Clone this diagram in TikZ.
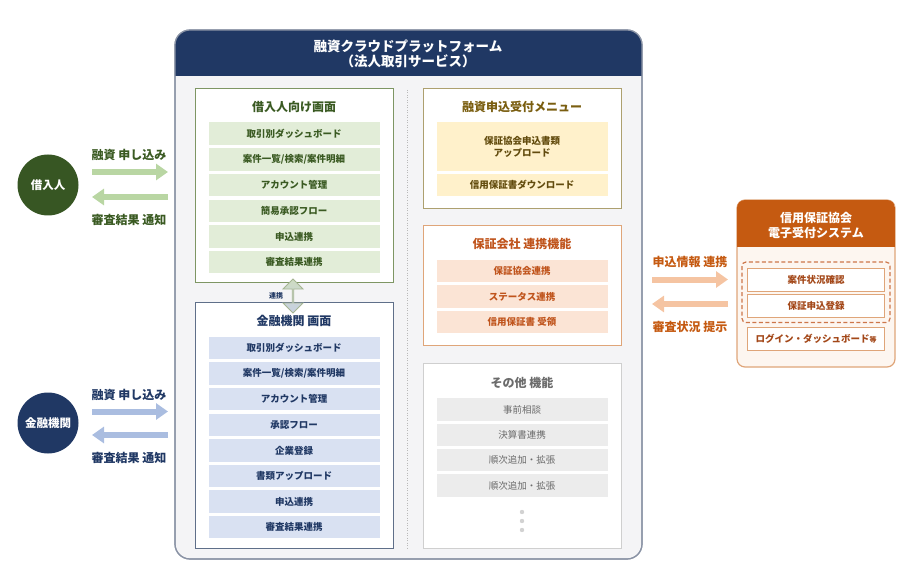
\documentclass[tikz,border=0pt]{standalone}
\usepackage{fontspec}
\setmainfont{Noto Sans CJK JP}
\usetikzlibrary{arrows.meta,shapes.arrows}
% colours
\definecolor{navy}{HTML}{203864}
\definecolor{platbg}{HTML}{F4F4F6}
\definecolor{platline}{HTML}{8A93A5}
\definecolor{grnline}{HTML}{7E9664}
\definecolor{grntext}{HTML}{3A5A22}
\definecolor{grnitem}{HTML}{E2EDD8}
\definecolor{grnarrow}{HTML}{B9D6A3}
\definecolor{grncircle}{HTML}{375623}
\definecolor{bluline}{HTML}{5F6F89}
\definecolor{bluitem}{HTML}{D9E1F2}
\definecolor{bluarrow}{HTML}{AABDE0}
\definecolor{goldline}{HTML}{ADA06F}
\definecolor{goldtext}{HTML}{7A5E10}
\definecolor{golditem}{HTML}{FFF1CB}
\definecolor{orgline}{HTML}{DFA579}
\definecolor{orgtext}{HTML}{C0541C}
\definecolor{orgitem}{HTML}{FBE4D5}
\definecolor{orghead}{HTML}{C55A11}
\definecolor{orgbg}{HTML}{FDF6F0}
\definecolor{orgarrow}{HTML}{F5C4A2}
\definecolor{gryline}{HTML}{CFCFCF}
\definecolor{grytext}{HTML}{6B6B6B}
\definecolor{gryitem}{HTML}{ECECEC}

\begin{document}
\begin{tikzpicture}[x=1pt, y=-1pt, font=\bfseries,
  panel/.style={draw, line width=1.3pt, fill=white, anchor=north west, inner sep=0pt, minimum width=198pt},
  ptitle/.style={font=\fontsize{12}{14}\bfseries},
  item/.style={minimum width=171pt, minimum height=22.5pt, inner sep=0pt, align=center, font=\fontsize{9.5}{12}\bfseries},
  sysitem/.style={draw=orgline, line width=1pt, fill=white, minimum width=137pt, minimum height=23pt, inner sep=0pt, text=orgtext!85!black, font=\fontsize{9.5}{11}\bfseries},
  actor/.style={circle, minimum size=61pt, inner sep=0pt, text=white, font=\fontsize{11.5}{13}\bfseries},
  flow/.style={line width=6pt, -{Triangle[length=12pt,width=16pt]}},
  flowlabel/.style={font=\fontsize{12}{14}\bfseries}]
\useasboundingbox (0,0) rectangle (910,580);

% platform frame
\draw[platline, fill=platbg, line width=1.2pt, rounded corners=15pt] (175,30) rectangle (642,559);
\begin{scope}
  \clip[rounded corners=15pt] (175,30) rectangle (642,559);
  \fill[navy] (175,30) rectangle (642,76);
\end{scope}
\draw[platline, line width=1.2pt, rounded corners=15pt] (175,30) rectangle (642,559);
\node[text=white, align=center, font=\fontsize{13.5}{15}\bfseries] (pftitle) at (408,54) {融資クラウドプラットフォーム\\（法人取引サービス）};
\draw[gray!55, line width=0.8pt, dash pattern=on 1pt off 1.5pt] (407,90) -- (407,548);

% borrower screen
\node[panel, draw=grnline, minimum height=194pt] (brwpanel) at (195,88) {};
\node[ptitle, text=grntext] (brwtitle) at (294,106.5) {借入人向け画面};
\foreach \t [count=\i] in {取引別ダッシュボード, 案件一覧/検索/案件明細, アカウント管理, 簡易承認フロー, 申込連携, 審査結果連携}
  \node[item, fill=grnitem, text=grntext] (brw\i) at (294,{108+25.7*\i}) {\t};

% bank screen
\node[panel, draw=bluline, minimum height=246pt] (bnkpanel) at (195,302) {};
\node[ptitle, text=navy] (bnktitle) at (294,320.5) {金融機関 画面};
\foreach \t [count=\i] in {取引別ダッシュボード, 案件一覧/検索/案件明細, アカウント管理, 承認フロー, 企業登録, 書類アップロード, 申込連携, 審査結果連携}
  \node[item, fill=bluitem, text=navy] (bnk\i) at (294,{322.4+25.6*\i}) {\t};

% link between screens
\node[double arrow, shape border rotate=90, draw=grnline!70, line width=0.8pt, top color=grnitem!80!grnline, bottom color=bluitem!85!bluline, minimum height=34pt, minimum width=20pt, double arrow head extend=5.5pt, inner sep=0pt] (link) at (293,296) {};
\node[font=\fontsize{7}{8}\bfseries, text=navy] (linklabel) at (276,296) {連携};

% loan application menu
\node[panel, draw=goldline, minimum height=120pt] (menupanel) at (423,88) {};
\node[ptitle, text=goldtext] (menutitle) at (522,106.5) {融資申込受付メニュー};
\node[item, fill=golditem, text=goldtext!80!black, minimum height=48.5pt, font=\fontsize{9.5}{12}\bfseries] (menu1) at (522,146.5) {保証協会申込書類\\アップロード};
\node[item, fill=golditem, text=goldtext!80!black] (menu2) at (522,185) {信用保証書ダウンロード};

% guarantee company link
\node[panel, draw=orgline, minimum height=120pt] (gtepanel) at (423,225) {};
\node[ptitle, text=orgtext] (gtetitle) at (522,244) {保証会社 連携機能};
\foreach \t [count=\i] in {保証協会連携, ステータス連携, 信用保証書 受領}
  \node[item, fill=orgitem, text=orgtext] (gte\i) at (522,{245.3+25.6*\i}) {\t};

% other functions
\node[panel, draw=gryline, minimum height=185pt] (othpanel) at (423,363) {};
\node[ptitle, text=grytext] (othtitle) at (522,383) {その他 機能};
\foreach \t [count=\i] in {事前相談, 決算書連携, 順次追加・拡張, 順次追加・拡張}
  \node[item, fill=gryitem, text=grytext, font=\fontsize{9.5}{12}\selectfont] (oth\i) at (522,{384+25.4*\i}) {\t};
\foreach \y in {512,521,530}
  \fill[gray!35] (522,\y) circle[radius=2.2pt];

% users
\node[actor, fill=grncircle] (borrower) at (48,185) {借入人};
\node[actor, fill=navy] (bank) at (48,423) {金融機関};

\coordinate (brwA) at (92,172);  \coordinate (brwB) at (168,172);
\coordinate (brwC) at (168,197); \coordinate (brwD) at (92,197);
\draw[flow, grnarrow] (brwA) -- (brwB);
\draw[flow, grnarrow] (brwC) -- (brwD);
\node[flowlabel, text=grntext] (brwreq) at (129,155) {融資 申し込み};
\node[flowlabel, text=grntext] (brwres) at (129,219.5) {審査結果 通知};

\coordinate (bnkA) at (92,411.5);  \coordinate (bnkB) at (168,411.5);
\coordinate (bnkC) at (168,435);   \coordinate (bnkD) at (92,435);
\draw[flow, bluarrow] (bnkA) -- (bnkB);
\draw[flow, bluarrow] (bnkC) -- (bnkD);
\node[flowlabel, text=navy] (bnkreq) at (129,394.5) {融資 申し込み};
\node[flowlabel, text=navy] (bnkres) at (129,458) {審査結果 通知};

% guarantee association system
\draw[orgline, fill=orgbg, line width=1.2pt, rounded corners=8pt] (737,200) rectangle (895,367);
\begin{scope}
  \clip[rounded corners=8pt] (737,200) rectangle (895,367);
  \fill[orghead] (737,200) rectangle (895,247);
\end{scope}
\node[text=white, align=center, font=\fontsize{12}{15}\bfseries] (systitle) at (816,225.8) {信用保証協会\\電子受付システム};
\draw[orgtext!80, line width=1.2pt, dash pattern=on 4pt off 2.5pt, rounded corners=4pt] (742,262) rectangle (890,322.5);
\node[sysitem] (sys1) at (816,280) {案件状況確認};
\node[sysitem] (sys2) at (816,305.7) {保証申込登録};
\node[sysitem] (sys3) at (816,339.3) {ログイン・ダッシュボード{\fontsize{7}{8}\selectfont 等}};

\coordinate (sysA) at (652,279.5); \coordinate (sysB) at (728,279.5);
\coordinate (sysC) at (728,304);   \coordinate (sysD) at (652,304);
\draw[flow, orgarrow] (sysA) -- (sysB);
\draw[flow, orgarrow] (sysC) -- (sysD);
\node[flowlabel, text=orghead] (sysreq) at (690,262) {申込情報 連携};
\node[flowlabel, text=orghead] (sysres) at (690,326.5) {審査状況 提示};
\end{tikzpicture}
\end{document}
